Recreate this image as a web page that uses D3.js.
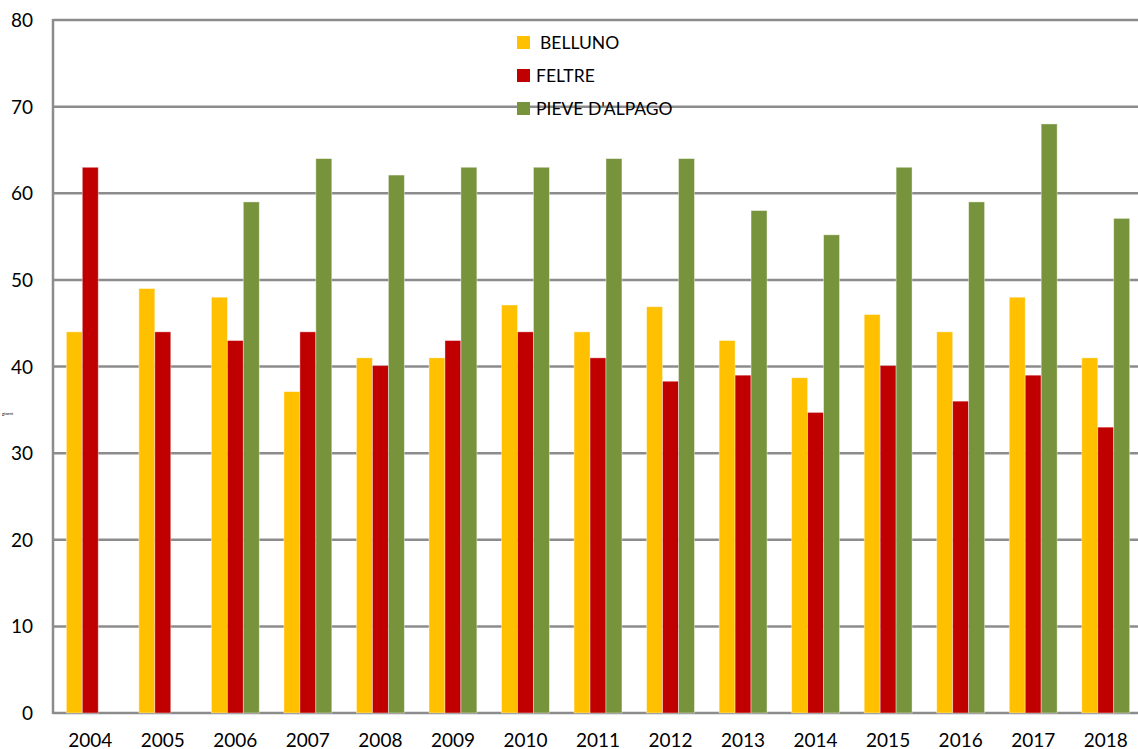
<!DOCTYPE html>
<html>
<head>
<meta charset="utf-8">
<script src="https://cdn.jsdelivr.net/npm/d3@7"></script>
<style>
  body { margin: 0; background: #fff; }
  text { font-family: Lato, "Open Sans", "Liberation Sans", sans-serif; fill: #000; }
</style>
</head>
<body>
<svg id="chart" width="1138" height="749"></svg>
<script>
// years on the x axis
const years = ["2004","2005","2006","2007","2008","2009","2010","2011","2012","2013","2014","2015","2016","2017","2018"];
const seriesNames = ["BELLUNO", "FELTRE", "PIEVE D'ALPAGO"];
const belluno = [44, 49, 48, 37.1, 41, 41, 47.1, 44, 46.9, 43, 38.7, 46, 44, 48, 41];
const feltre  = [63, 44, 43, 44, 40.1, 43, 44, 41, 38.3, 39, 34.7, 40.1, 36, 39, 33];
const pieve   = [null, null, 59, 64, 62.1, 63, 63, 64, 64, 58, 55.2, 63, 59, 68, 57.1];
const yTicks = [0, 10, 20, 30, 40, 50, 60, 70, 80];

const colors = ["#FFC000", "#C00000", "#77933C"];
const seriesValues = [belluno, feltre, pieve];

const svg = d3.select("#chart");
// plot area edges (the plot runs slightly past the right edge of the window)
const plot = { left: 54, right: 1142, top: 20, bottom: 713 };

const x = d3.scaleBand().domain(years).range([plot.left, plot.right])
    .paddingInner(0.34).paddingOuter(0.17);
const xs = d3.scaleBand().domain(seriesNames).range([0, x.bandwidth()]);
const y = d3.scaleLinear().domain([0, 80]).range([plot.bottom, plot.top]);

// gridlines
svg.append("g").selectAll("line").data(yTicks).join("line")
    .attr("x1", plot.left - 1).attr("x2", 1138)
    .attr("y1", d => y(d)).attr("y2", d => y(d))
    .attr("stroke", "#8c8c8c").attr("stroke-width", 2.5);

// left axis line
svg.append("line")
    .attr("x1", plot.left - 1).attr("x2", plot.left - 1)
    .attr("y1", y(80) - 1).attr("y2", y(0) + 1)
    .attr("stroke", "#8c8c8c").attr("stroke-width", 2.5);

// y tick labels
svg.append("g").selectAll("text").data(yTicks).join("text")
    .attr("x", 33).attr("y", d => y(d) + 7)
    .attr("text-anchor", "end").attr("font-size", 19)
    .text(d => d);

// x tick labels
svg.append("g").selectAll("text").data(years).join("text")
    .attr("x", d => x(d) + x.bandwidth() / 2).attr("y", 746.5)
    .attr("text-anchor", "middle").attr("font-size", 19)
    .text(d => d);

// tiny axis title at the far left
svg.append("text").attr("x", 2).attr("y", 415).attr("font-size", 4.5)
    .attr("fill", "#666").text("giorni");

// bars
seriesNames.forEach((name, si) => {
    const vals = seriesValues[si];
    svg.append("g").selectAll("rect")
        .data(years.map((yr, i) => ({ yr, v: vals[i] })).filter(d => d.v != null))
        .join("rect")
        .attr("x", d => x(d.yr) + xs(name))
        .attr("width", xs.bandwidth())
        .attr("y", d => y(d.v))
        .attr("height", d => y(0) - y(d.v))
        .attr("fill", colors[si])
        .attr("stroke", "#fff").attr("stroke-opacity", 0.5).attr("stroke-width", 0.8);
});

// legend
const legend = svg.append("g");
seriesNames.forEach((name, i) => {
    const ly = 36 + i * 33;
    legend.append("rect").attr("x", 517).attr("y", ly).attr("width", 13).attr("height", 13)
        .attr("fill", colors[i]);
    legend.append("text").attr("x", i === 0 ? 540 : 536).attr("y", ly + 13)
        .attr("font-size", 17.5).text(name);
});
</script>
</body>
</html>
